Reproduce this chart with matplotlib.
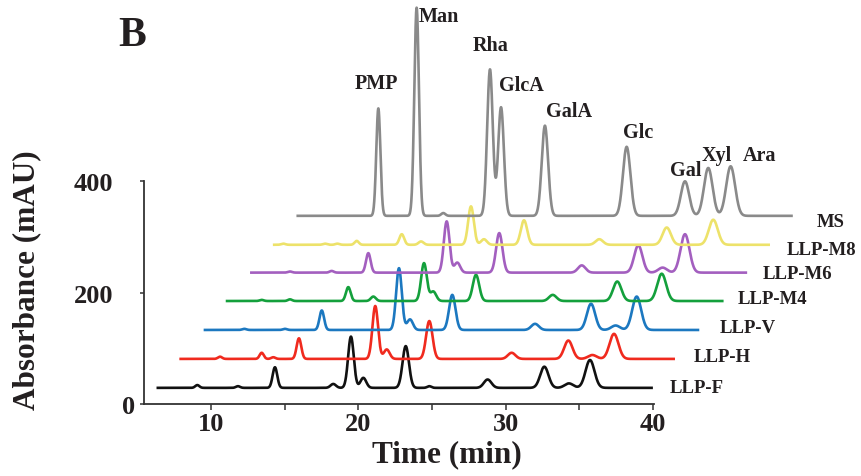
import numpy as np
import matplotlib
matplotlib.use("Agg")
import matplotlib.pyplot as plt
from matplotlib.transforms import ScaledTranslation

plt.rcParams["font.family"] = ["Liberation Serif", "DejaVu Serif"]
plt.rcParams["font.weight"] = "bold"

# traces, bottom to top
names = ["LLP-F", "LLP-H", "LLP-V", "LLP-M4", "LLP-M6", "LLP-M8", "MS"]
colors = ["#111111", "#f02a1e", "#1c78c0", "#14a03c", "#a35fbf", "#ede26a", "#8a8a8a"]
starts = [6.3, 7.85, 9.5, 11.0, 12.65, 14.2, 15.8]
ends = [40.0, 41.5, 43.15, 44.8, 46.4, 47.95, 49.5]
baselines = [29, 81, 133, 185, 236, 286, 338]
shift = 1.6  # x offset between successive traces (min)

# peak centres (min, as drawn) and heights above baseline (mAU)
pk_f = [9.07, 11.83, 14.34, 18.30, 19.50, 20.34, 23.22, 24.82, 28.78, 32.63, 34.30, 35.73]
ht_f = [5, 3, 37, 7, 92, 18, 75, 3, 15, 38, 8, 50]
pk_h = [10.61, 13.44, 14.23, 15.97, 21.15, 21.93, 24.82, 30.41, 34.26, 35.89, 37.36]
ht_h = [4, 11, 3, 37, 95, 17, 68, 11, 33, 7, 45]
pk_v = [12.26, 15.02, 17.52, 22.76, 23.51, 26.38, 32.0, 35.80, 37.47, 38.90]
ht_v = [2, 2, 35, 111, 19, 63, 11, 47, 8, 60]
pk_m4 = [13.44, 15.36, 19.32, 21.02, 24.46, 25.09, 27.99, 33.20, 37.58, 40.60]
ht_m4 = [2, 3, 25, 8, 68, 17, 47, 11, 35, 49]
pk_m6 = [15.36, 18.19, 20.68, 26.0, 26.72, 29.57, 35.17, 39.01, 40.66, 42.18]
ht_m6 = [2, 3, 35, 92, 18, 71, 13, 49, 9, 69]
pk_m8 = [14.91, 17.74, 18.58, 19.89, 22.95, 24.26, 27.65, 28.53, 31.25, 36.36, 40.94, 44.10]
ht_m8 = [2, 2, 2, 7, 19, 6, 69, 10, 44, 10, 31, 45]
pk_ms = [21.36, 23.96, 25.77, 28.94, 29.69, 32.67, 38.22, 42.18, 43.76, 45.28]
ht_ms = [193, 374, 5, 263, 195, 162, 124, 62, 86, 89]

peaks = [pk_f, pk_h, pk_v, pk_m4, pk_m6, pk_m8, pk_ms]
heights = [ht_f, ht_h, ht_v, ht_m4, ht_m6, ht_m8, ht_ms]

# standard names over the MS trace
std_names = ["PMP", "Man", "Rha", "GlcA", "GalA", "Glc", "Gal", "Xyl", "Ara"]
std_x = [21.2, 25.48, 29.01, 31.05, 34.3, 38.99, 42.25, 44.35, 47.27]
std_y = [577, 697, 645, 573, 526, 489, 420, 447, 447]

# trace labels (centre positions)
lab_x = [43.0, 44.69, 46.46, 48.09, 49.85, 51.48, 52.09]
lab_y = [30, 86, 138, 189, 235, 278, 327]

fig = plt.figure(figsize=(8.61, 4.77), dpi=100)
ax = fig.add_axes([144 / 861, 72 / 477, 717 / 861, 405 / 477])

for k in range(len(names)):
    x = np.linspace(starts[k], ends[k], 3000)
    y = np.full_like(x, baselines[k], dtype=float)
    for c, h in zip(peaks[k], heights[k]):
        t = c - k * shift
        s = 0.14 if h <= 5 else 0.10 + 0.0068 * (t - 6)
        y += h * np.exp(-(x - c) ** 2 / (2 * s ** 2))
    ax.plot(x, y, color=colors[k], lw=1.9, solid_capstyle="butt")
    ax.text(lab_x[k], lab_y[k], names[k], ha="center", va="center",
            fontsize=13.5, color="#231f20")

for n, xx, yy in zip(std_names, std_x, std_y):
    ax.text(xx, yy, n, ha="center", va="center", fontsize=14.5, color="#231f20")

ax.set_xlim(5.45, 54.13)
ax.set_ylim(0, 727.5)
for s in ["top", "right"]:
    ax.spines[s].set_visible(False)
ax.spines["left"].set_bounds(0, 400)
ax.spines["bottom"].set_bounds(5.45, 40.1)
for s in ["left", "bottom"]:
    ax.spines[s].set_linewidth(1.3)
    ax.spines[s].set_color("#333333")

ax.set_xticks([10, 20, 30, 40])
ax.set_xticks([15, 25, 35], minor=True)
ax.set_yticks([0, 200, 400])
ax.tick_params(axis="x", which="both", direction="out", length=4, width=1.1,
               pad=2, labelsize=19, colors="#333333", labelcolor="#231f20")
ax.tick_params(axis="y", direction="out", length=3, width=1.1, pad=19,
               labelsize=19, colors="#333333", labelcolor="#231f20")
zero_lbl = ax.get_yticklabels()[0]
zero_lbl.set_transform(zero_lbl.get_transform()
                       + ScaledTranslation(0.22, 0, fig.dpi_scale_trans))

fig.text(27 / 861, 1 - 280 / 477, "Absorbance (mAU)", rotation=90,
         ha="center", va="center", fontsize=22.5, color="#231f20")
fig.text(447 / 861, 1 - 455 / 477, "Time (min)", ha="center", va="center",
         fontsize=22.5, color="#231f20")
fig.text(132 / 861, 1 - 36 / 477, "B", ha="center", va="center",
         fontsize=30, color="#231f20")

fig.savefig("out.png", dpi=100)
